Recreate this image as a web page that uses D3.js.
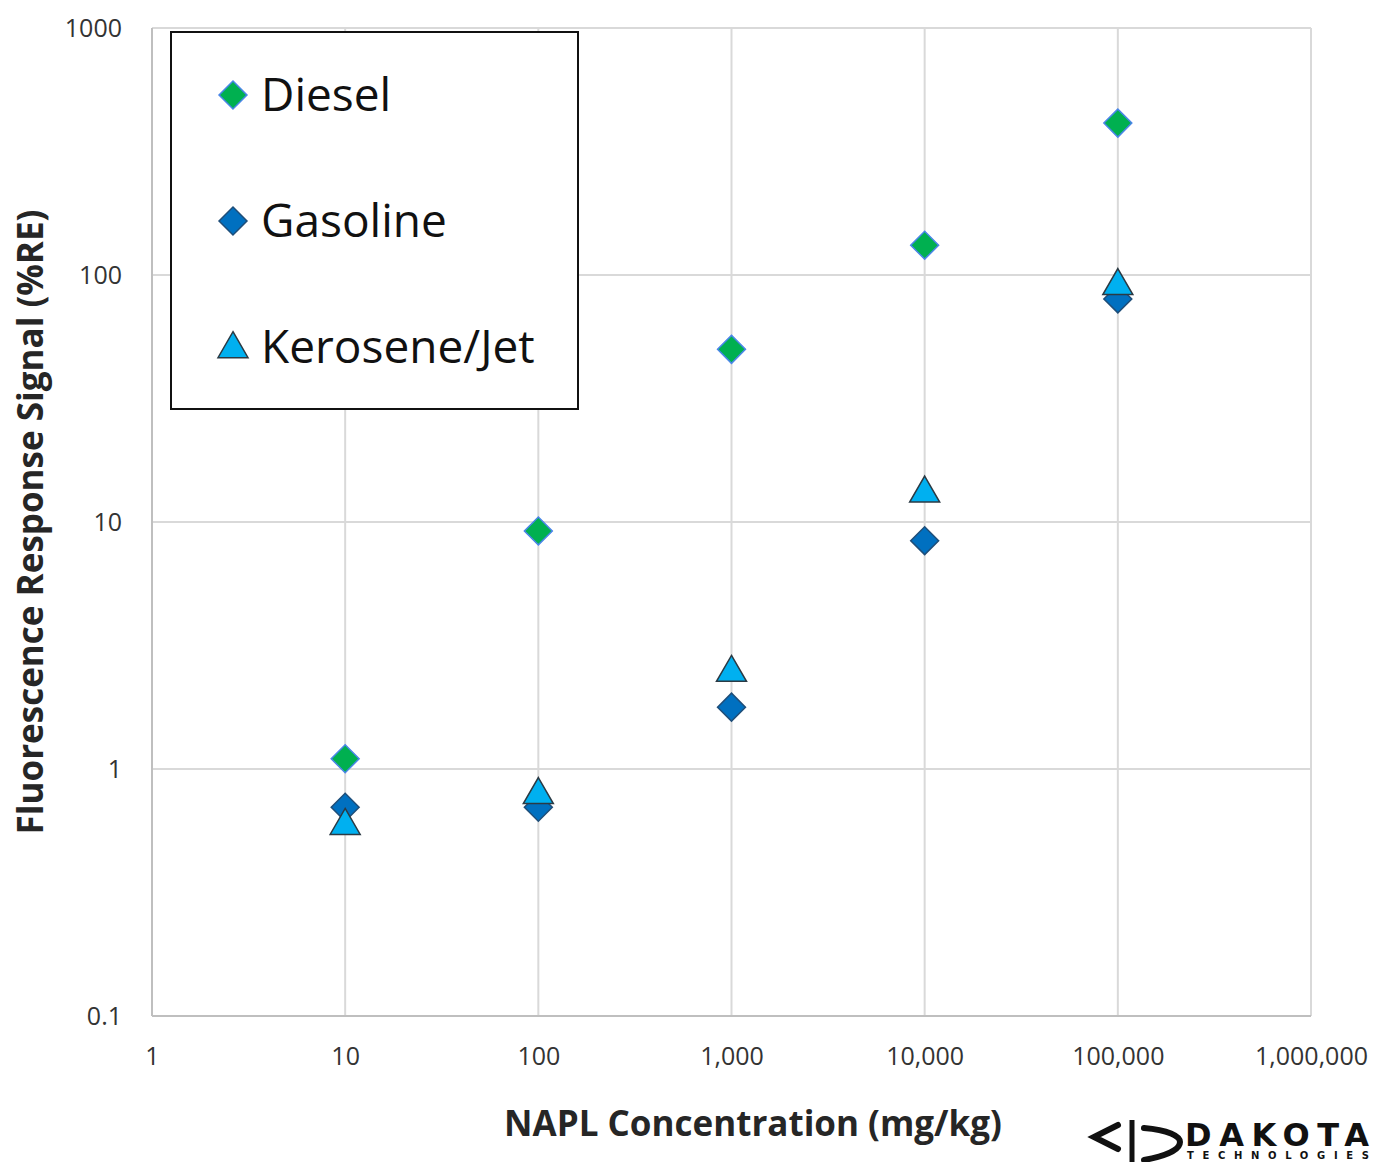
<!DOCTYPE html>
<html>
<head>
<meta charset="utf-8">
<script src="https://cdn.jsdelivr.net/npm/d3@7"></script>
<style>
  body { margin: 0; background: #fff; }
  svg { display: block; font-family: "Open Sans", "Noto Sans", sans-serif; }
</style>
</head>
<body>
<svg id="chart" width="1376" height="1162"></svg>
<script>
// data
const concentrations = [10, 100, 1000, 10000, 100000];
const dieselValues = [1.1, 9.2, 50, 132, 412];
const gasolineValues = [0.7, 0.7, 1.78, 8.4, 80];
const keroseneValues = [0.6, 0.8, 2.5, 13.3, 92];
const xTicks = [1, 10, 100, 1000, 10000, 100000, 1000000];
const yTicks = [0.1, 1, 10, 100, 1000];

const margin = { top: 28, right: 65, bottom: 146, left: 152 };
const width = 1376 - margin.left - margin.right;
const height = 1162 - margin.top - margin.bottom;

const svg = d3.select("#chart");
const g = svg.append("g").attr("transform", `translate(${margin.left},${margin.top})`);

const x = d3.scaleLog().domain([1, 1000000]).range([0, width]);
const y = d3.scaleLog().domain([0.1, 1000]).range([height, 0]);

// grid
g.append("g")
  .selectAll("line")
  .data(xTicks)
  .join("line")
  .attr("x1", (d) => x(d)).attr("x2", (d) => x(d))
  .attr("y1", 0).attr("y2", height)
  .attr("stroke", "#d9d9d9").attr("stroke-width", 2);

g.append("g")
  .selectAll("line")
  .data(yTicks)
  .join("line")
  .attr("x1", 0).attr("x2", width)
  .attr("y1", (d) => y(d)).attr("y2", (d) => y(d))
  .attr("stroke", "#d9d9d9").attr("stroke-width", 2);

// axis lines
g.append("line").attr("x1", 0).attr("x2", width).attr("y1", height).attr("y2", height)
  .attr("stroke", "#bfbfbf").attr("stroke-width", 2);
g.append("line").attr("x1", 0).attr("x2", 0).attr("y1", 0).attr("y2", height)
  .attr("stroke", "#bfbfbf").attr("stroke-width", 2);

// tick labels
const xAxis = g.append("g")
  .attr("transform", `translate(0,${height})`)
  .call(d3.axisBottom(x).tickValues(xTicks).tickFormat(d3.format(",")).tickSize(0).tickPadding(31));
xAxis.select(".domain").remove();
xAxis.selectAll("text").attr("font-size", 25).attr("fill", "#333").attr("font-family", "Open Sans, sans-serif");

const yAxis = g.append("g")
  .call(d3.axisLeft(y).tickValues(yTicks).tickFormat((d) => (d < 1 ? "0.1" : String(d))).tickSize(0).tickPadding(30));
yAxis.select(".domain").remove();
yAxis.selectAll("text").attr("font-size", 25).attr("fill", "#333").attr("font-family", "Open Sans, sans-serif");

// axis titles
svg.append("text")
  .attr("x", 753)
  .attr("y", 1136)
  .attr("text-anchor", "middle")
  .attr("font-size", 35)
  .attr("font-weight", "bold")
  .attr("fill", "#262626")
  .text("NAPL Concentration (mg/kg)");

svg.append("text")
  .attr("transform", "rotate(-90)")
  .attr("x", -522)
  .attr("y", 43)
  .attr("text-anchor", "middle")
  .attr("font-size", 35)
  .attr("font-weight", "bold")
  .attr("fill", "#262626")
  .text("Fluorescence Response Signal (%RE)");

// markers
const diamond = d3.symbol().type(d3.symbolSquare).size(390);
const triangle = d3.symbol().type(d3.symbolTriangle).size(390);

const series = [
  { name: "Diesel", values: dieselValues, shape: "diamond", fill: "#00b050", stroke: "#4a86e8" },
  { name: "Gasoline", values: gasolineValues, shape: "diamond", fill: "#0070c0", stroke: "#1f4e79" },
  { name: "Kerosene/Jet", values: keroseneValues, shape: "triangle", fill: "#00b0f0", stroke: "#2b3a44" },
];

function markerPath(s) {
  return s.shape === "diamond" ? diamond() : triangle();
}
function markerTransform(s, cx, cy) {
  return s.shape === "diamond"
    ? `translate(${cx},${cy}) rotate(45)`
    : `translate(${cx},${cy + 2})`;
}

// gasoline under kerosene under diesel
[series[1], series[2], series[0]].forEach((s) => {
  g.append("g")
    .selectAll("path")
    .data(concentrations.map((c, i) => ({ c, v: s.values[i] })))
    .join("path")
    .attr("d", markerPath(s))
    .attr("transform", (d) => markerTransform(s, x(d.c), y(d.v)))
    .attr("fill", s.fill)
    .attr("stroke", s.stroke)
    .attr("stroke-width", 1.5);
});

// legend
const legend = svg.append("g");
legend.append("rect")
  .attr("x", 171).attr("y", 32)
  .attr("width", 407).attr("height", 377)
  .attr("fill", "#fff").attr("stroke", "#111").attr("stroke-width", 2);

series.forEach((s, i) => {
  const cy = 95 + i * 126;
  legend.append("path")
    .attr("d", markerPath(s))
    .attr("transform", markerTransform(s, 233, cy))
    .attr("fill", s.fill)
    .attr("stroke", s.stroke)
    .attr("stroke-width", 1.5);
  legend.append("text")
    .attr("x", 261)
    .attr("y", cy + 16)
    .attr("font-size", 46)
    .attr("fill", "#111")
    .text(s.name);
});

// logo
const logo = svg.append("g").attr("transform", "translate(1088,1116)");
logo.append("path")
  .attr("d", "M30,9 L6,21 L30,33")
  .attr("fill", "none").attr("stroke", "#111").attr("stroke-width", 6).attr("stroke-linecap", "round");
logo.append("line")
  .attr("x1", 44).attr("x2", 44).attr("y1", 4).attr("y2", 46)
  .attr("stroke", "#111").attr("stroke-width", 5);
logo.append("path")
  .attr("d", "M56,12 C80,14 92,20 92,26 C92,34 78,40 56,44")
  .attr("fill", "none").attr("stroke", "#111").attr("stroke-width", 6).attr("stroke-linecap", "round");
logo.append("text")
  .attr("x", 97).attr("y", 30)
  .attr("font-size", 32).attr("font-weight", "bold")
  .attr("font-family", "DejaVu Sans, sans-serif")
  .attr("textLength", 184)
  .attr("fill", "#111")
  .text("DAKOTA");
logo.append("text")
  .attr("x", 99).attr("y", 43)
  .attr("font-size", 10).attr("font-weight", "bold")
  .attr("font-family", "DejaVu Sans, sans-serif")
  .attr("textLength", 182)
  .attr("fill", "#111")
  .text("TECHNOLOGIES");
</script>
</body>
</html>
